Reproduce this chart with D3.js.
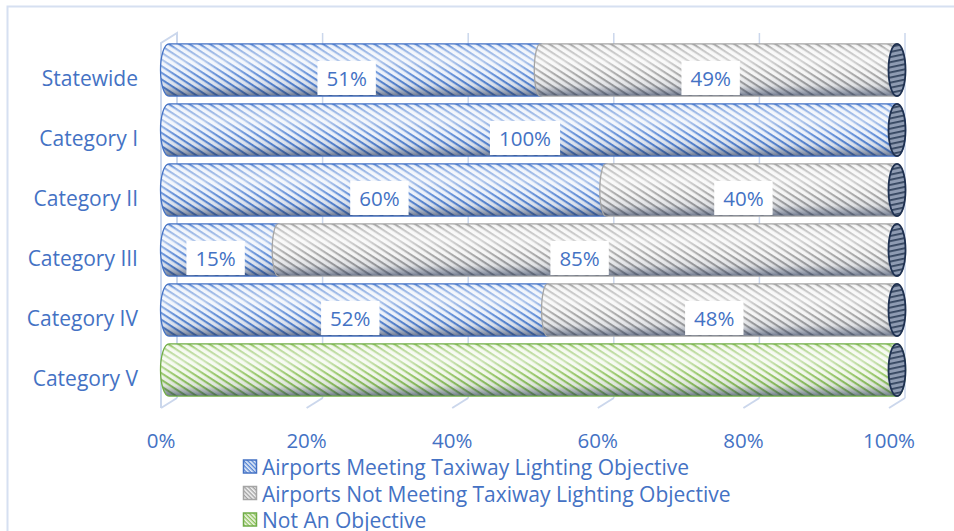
<!DOCTYPE html>
<html><head><meta charset="utf-8">
<script src="https://cdn.jsdelivr.net/npm/d3@7"></script>
<style>
html,body{margin:0;padding:0;background:#fff;}
svg{display:block;}
text{font-family:"Open Sans","Noto Sans",sans-serif;fill:#4472c4;}
</style></head>
<body>
<svg id="chart" width="954" height="531"></svg>
<script>
const categories = ["Statewide","Category I","Category II","Category III","Category IV","Category V"];
const meeting     = [51, 100, 60, 15, 52, 0];
const notMeeting  = [49, 0, 40, 85, 48, 0];
const notObjective= [0, 0, 0, 0, 0, 100];
const seriesNames = ["Airports Meeting Taxiway Lighting Objective","Airports Not Meeting Taxiway Lighting Objective","Not An Objective"];
const tickValues = [0,20,40,60,80,100];
const tickLabels = ["0%","20%","40%","60%","80%","100%"];

const svg = d3.select("#chart");
const defs = svg.append("defs");

const styles = [
  {bg:"#eaf0fa", stripe:"#5585d4", border:"#4472c4"},
  {bg:"#f4f4f4", stripe:"#a0a0a0", border:"#a5a5a5"},
  {bg:"#f1f7e9", stripe:"#8ec25c", border:"#70ad47"}
];
styles.forEach((s,i)=>{
  const p = defs.append("pattern").attr("id","pat"+i).attr("patternUnits","userSpaceOnUse")
    .attr("width",12).attr("height",5.6).attr("patternTransform","rotate(33)");
  p.append("rect").attr("width",12).attr("height",5.6).attr("fill",s.bg);
  p.append("rect").attr("y",0).attr("width",12).attr("height",2.1).attr("fill",s.stripe);
  const m = defs.append("pattern").attr("id","mpat"+i).attr("patternUnits","userSpaceOnUse")
    .attr("width",3).attr("height",3).attr("patternTransform","rotate(45)");
  m.append("rect").attr("width",3).attr("height",3).attr("fill",s.bg);
  m.append("rect").attr("width",3).attr("height",1.4).attr("fill",s.stripe);
});
const ep = defs.append("pattern").attr("id","endpat").attr("patternUnits","userSpaceOnUse")
  .attr("width",10).attr("height",5).attr("patternTransform","rotate(-12)");
ep.append("rect").attr("width",10).attr("height",5).attr("fill","#8e9bb2");
ep.append("rect").attr("width",10).attr("height",1.8).attr("fill","#34455f");

const g = defs.append("linearGradient").attr("id","shade").attr("x1",0).attr("y1",0).attr("x2",0).attr("y2",1);
[[0,"#ffffff",0.0],[0.1,"#ffffff",0.4],[0.32,"#ffffff",0.55],[0.6,"#ffffff",0.1],[0.8,"#1f2f50",0.1],[0.92,"#1f2f50",0.4],[1,"#1f2f50",0.65]]
  .forEach(([o,c,a])=>g.append("stop").attr("offset",o).attr("stop-color",c).attr("stop-opacity",a));

// outer border
svg.append("rect").attr("x",7.5).attr("y",6.5).attr("width",960).attr("height",540)
  .attr("fill","none").attr("stroke","#d6e0f1").attr("stroke-width",2);

// scales (front plane) and 3D depth offset
const x = d3.scaleLinear().domain([0,100]).range([161,889]);
const dx = 16, dy = -10;
const y = d3.scaleBand().domain(categories).range([40,400]).paddingInner(0.13).paddingOuter(0.065);
const frontTop = 43, frontBottom = 408;
const gridColor = "#cbd7ec";

// back wall gridlines
svg.append("g").selectAll("line").data(tickValues.slice(1)).join("line")
  .attr("x1",d=>x(d)+dx).attr("x2",d=>x(d)+dx)
  .attr("y1",frontTop+dy).attr("y2",frontBottom+dy)
  .attr("stroke",gridColor).attr("stroke-width",1.5);
// floor depth ticks
svg.append("g").selectAll("line").data(tickValues).join("line")
  .attr("x1",d=>x(d)).attr("x2",d=>x(d)+dx)
  .attr("y1",frontBottom).attr("y2",frontBottom+dy)
  .attr("stroke",gridColor).attr("stroke-width",2);
// left wall
svg.append("path")
  .attr("d",`M${x(0)},${frontBottom}V${frontTop}L${x(0)+dx},${frontTop+dy}V${frontBottom+dy}`)
  .attr("fill","none").attr("stroke",gridColor).attr("stroke-width",2);

// bars
const series = [meeting, notMeeting, notObjective];
const rx = 8.5;
const barG = svg.append("g");
categories.forEach((cat,ci)=>{
  const top = y(cat), h = y.bandwidth(), cy = top + h/2, ry = h/2;
  let acc = 0;
  const segs = [];
  series.forEach((arr,si)=>{
    const v = arr[ci];
    if(v>0){ segs.push({si, a:acc, b:acc+v}); acc += v; }
  });
  segs.forEach((s,k)=>{
    const xs = x(s.a)+dx/2, xe = x(s.b)+dx/2;
    const lrx = k===0 ? rx : 6;
    const d = `M${xs},${top} L${xe},${top} A${rx},${ry} 0 0 1 ${xe},${top+h} L${xs},${top+h} A${lrx},${ry} 0 0 1 ${xs},${top} Z`;
    barG.append("path").attr("d",d).attr("fill",`url(#pat${s.si})`);
    barG.append("path").attr("d",d).attr("fill","url(#shade)")
      .attr("stroke",styles[s.si].border).attr("stroke-width",1.3);
    if(k===segs.length-1){
      barG.append("ellipse").attr("cx",xe).attr("cy",cy).attr("rx",rx).attr("ry",ry)
        .attr("fill","url(#endpat)").attr("stroke","#1e3050").attr("stroke-width",1.8);
    }
  });
});

// data labels
const labelG = svg.append("g");
categories.forEach((cat,ci)=>{
  const cy = y(cat) + y.bandwidth()/2 + 8;
  let acc = 0;
  [meeting, notMeeting].forEach(arr=>{
    const v = arr[ci];
    if(v>0){
      const cx = x(acc + v/2);
      const t = labelG.append("text").attr("x",cx).attr("y",cy).attr("text-anchor","middle")
        .attr("dominant-baseline","central").attr("font-size",20.5).text(v+"%");
      const w = t.node().getComputedTextLength();
      labelG.insert("rect","text:last-child").attr("x",cx-w/2-9).attr("y",cy-17).attr("width",w+18).attr("height",34)
        .attr("fill","#ffffff");
    }
    acc += v;
  });
});
labelG.selectAll("text").raise();

// category axis labels
svg.append("g").selectAll("text").data(categories).join("text")
  .attr("x",138).attr("y",d=>y(d)+y.bandwidth()/2+8)
  .attr("text-anchor","end").attr("dominant-baseline","central").attr("font-size",21)
  .text(d=>d);

// value axis labels
svg.append("g").selectAll("text").data(tickValues).join("text")
  .attr("x",d=>x(d)).attr("y",440).attr("text-anchor","middle").attr("dominant-baseline","central")
  .attr("font-size",20.5).text((d,i)=>tickLabels[i]);

// legend
const leg = svg.append("g");
seriesNames.forEach((n,i)=>{
  const ly = 467 + i*26.5;
  leg.append("rect").attr("x",243.5).attr("y",ly-7).attr("width",13).attr("height",13)
    .attr("fill",`url(#mpat${i})`).attr("stroke",styles[i].border).attr("stroke-width",1.5);
  leg.append("text").attr("x",262).attr("y",ly).attr("dominant-baseline","central")
    .attr("font-size",21).text(n);
});
</script>
</body></html>
